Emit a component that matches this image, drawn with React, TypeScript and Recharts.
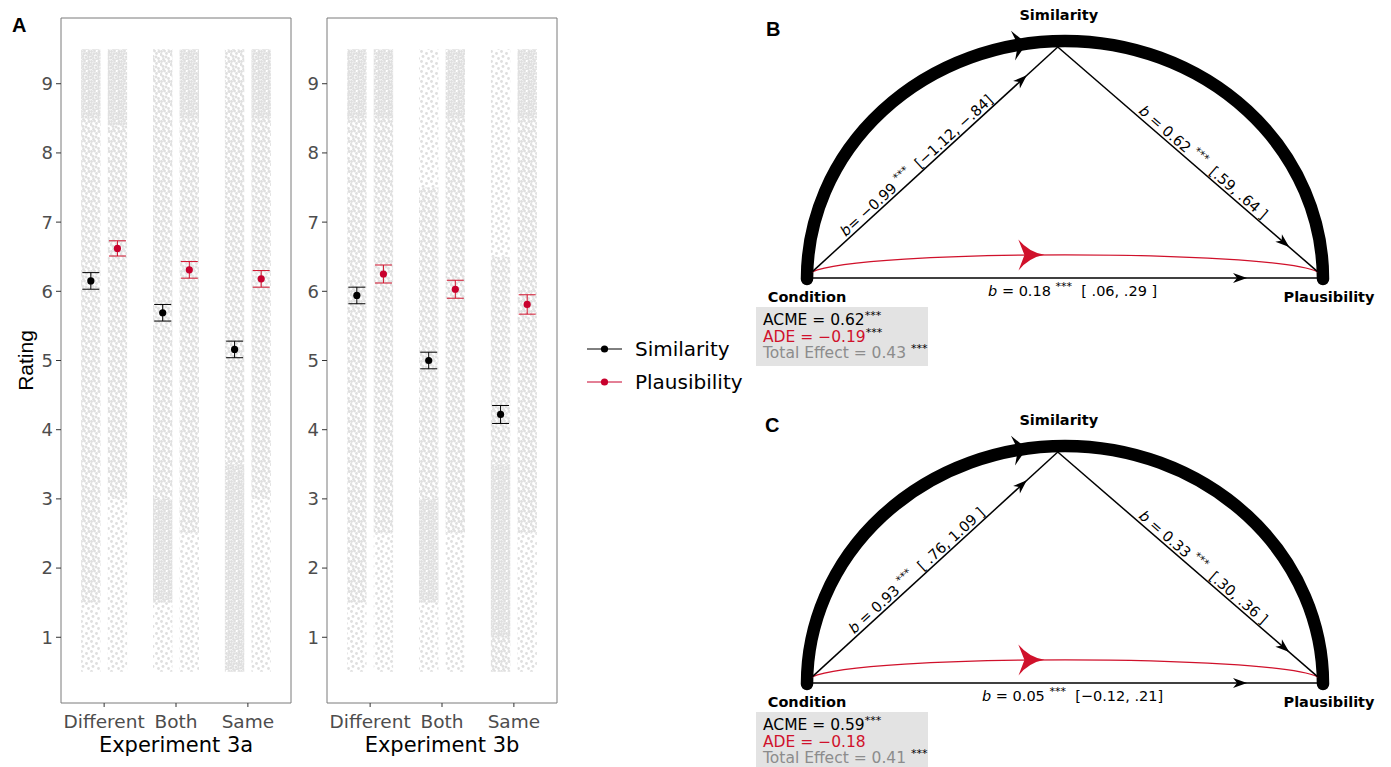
import React from "react";
import {
  ScatterChart,
  Scatter,
  XAxis,
  YAxis,
  ErrorBar,
  ReferenceArea,
  ReferenceLine,
  ReferenceDot,
  Legend,
} from "recharts";

const categories = ["Different", "Both", "Same"];
const seriesNames = ["Similarity", "Plausibility"];
const seriesColors = ["#000000", "#c8002d"];
const ratingTicks = [1, 2, 3, 4, 5, 6, 7, 8, 9];

// means and standard errors
const sim3a = [6.15, 5.69, 5.16];
const sim3aSe = [0.12, 0.12, 0.12];
const plaus3a = [6.62, 6.31, 6.18];
const plaus3aSe = [0.11, 0.12, 0.12];
const sim3b = [5.94, 5.0, 4.22];
const sim3bSe = [0.12, 0.12, 0.13];
const plaus3b = [6.25, 6.03, 5.81];
const plaus3bSe = [0.13, 0.13, 0.14];

// raw rating clouds: per column [from, to, density] with density 1 sparse .. 3 dense
// column order: Different/Sim, Different/Plaus, Both/Sim, Both/Plaus, Same/Sim, Same/Plaus
const cloud3a = [
  [[8.5, 9.5, 3], [1.5, 8.5, 2], [0.5, 1.5, 1]],
  [[8.4, 9.5, 3], [3, 8.4, 2], [0.5, 3, 1]],
  [[3, 9.5, 2], [1.5, 3, 3], [0.5, 1.5, 1]],
  [[8.5, 9.5, 3], [2.5, 8.5, 2], [0.5, 2.5, 1]],
  [[3.5, 9.5, 2], [0.5, 3.5, 3]],
  [[8.5, 9.5, 3], [3, 8.5, 2], [0.5, 3, 1]],
];
const cloud3b = [
  [[8.5, 9.5, 3], [1.5, 8.5, 2], [0.5, 1.5, 1]],
  [[8.5, 9.5, 3], [2.5, 8.5, 2], [0.5, 2.5, 1]],
  [[7.5, 9.5, 1], [3, 7.5, 2], [1.5, 3, 3], [0.5, 1.5, 1]],
  [[8.5, 9.5, 3], [2.5, 8.5, 2], [0.5, 2.5, 1]],
  [[6.5, 9.5, 1], [3.5, 6.5, 2], [1, 3.5, 3], [0.5, 1, 2]],
  [[8.5, 9.5, 3], [2.5, 8.5, 2], [0.5, 2.5, 1]],
];

// mediation diagrams (B = Experiment 3a, C = Experiment 3b)
const nodeNames = ["Condition", "Similarity", "Plausibility"];
const nodeX = [0.01, 0.486, 0.99];
const nodeY = [0.03, 0.975, 0.03];
const coefB = ["= \u22120.99", " = 0.62", " = 0.18"];
const ciB = ["[\u22121.12, \u2212.84]", "[.59, .64 ]", "[ .06, .29 ]"];
const coefC = [" = 0.93", " = 0.33", " = 0.05"];
const ciC = ["[ .76, 1.09 ]", "[.30, .36 ]", "[\u22120.12, .21]"];
const effectsB = ["0.62", "\u22120.19", "0.43"];
const effectsC = ["0.59", "\u22120.18", "0.41"];

const DODGE = 0.185;
const COL_HALF = 0.135;
const RED = "#d0112b";
const FONT = "DejaVu Sans";

const tileDots = [
  [1.5, 1.5], [6.5, 3.5], [3, 6.5], [8.5, 8.5], [4.5, 1], [9, 1.5], [1, 4.5],
  [6, 7], [3.5, 9.5], [8.5, 5.5], [3.8, 3.8], [1, 8], [6.5, 9.8], [9.6, 3.2],
];

const patterns = (id: string) =>
  [4, 9, 14].map((n, i) => (
    <pattern key={i} id={`${id}-d${i + 1}`} width={10} height={10} patternUnits="userSpaceOnUse">
      {tileDots.slice(0, n).map(([x, y], k) => (
        <circle key={k} cx={x} cy={y} r={1.45} fill="#dfdfdf" />
      ))}
    </pattern>
  ));

const meanDot = (p: any) => <circle cx={p.cx} cy={p.cy} r={3.6} fill={p.fill} />;

const legendContent = () => (
  <svg width={190} height={60}>
    {seriesNames.map((n, i) => (
      <g key={n} transform={`translate(0, ${15 + i * 33})`}>
        <line x1={1} x2={36} y1={0} y2={0} stroke={seriesColors[i]} strokeWidth={1} />
        <circle cx={18.5} cy={0} r={3.6} fill={seriesColors[i]} />
        <text x={49} y={7} fontSize={20} fontFamily={FONT} fill="#000">
          {n}
        </text>
      </g>
    ))}
  </svg>
);

function Facet(props: any) {
  const { id, title, sim, simSe, plaus, plausSe, cloud, left, width, axisWidth, marginRight, legend, rating } =
    props;
  const simData = categories.map((c, i) => ({ x: i + 1 - DODGE, y: sim[i], err: simSe[i] }));
  const plausData = categories.map((c, i) => ({ x: i + 1 + DODGE, y: plaus[i], err: plausSe[i] }));

  return (
    <div style={{ position: "absolute", left, top: 0 }}>
      <ScatterChart width={width} height={767} margin={{ top: 18, right: marginRight, bottom: 0, left: 0 }}>
        <defs>{patterns(id)}</defs>
        <XAxis
          type="number"
          dataKey="x"
          domain={[0.4, 3.6]}
          ticks={[1, 2, 3]}
          interval={0}
          allowDataOverflow
          tickFormatter={(v: number) => categories[v - 1]}
          height={64}
          axisLine={false}
          tickSize={4}
          tickMargin={8}
          tickLine={{ stroke: "#333" }}
          tick={{ fill: "#4d4d4d", fontSize: 18.5, fontFamily: FONT }}
          label={(p: any) => (
            <text
              x={p.viewBox.x + p.viewBox.width / 2}
              y={p.viewBox.y + 49}
              textAnchor="middle"
              fontSize={21}
              fontFamily={FONT}
              fill="#000"
            >
              {title}
            </text>
          )}
        />
        <YAxis
          type="number"
          dataKey="y"
          domain={[0.05, 9.95]}
          ticks={ratingTicks}
          interval={0}
          allowDataOverflow
          width={axisWidth}
          axisLine={false}
          tickSize={5}
          tickMargin={3}
          tickLine={{ stroke: "#333" }}
          tick={{ fill: "#4d4d4d", fontSize: 18, fontFamily: FONT }}
          label={
            rating
              ? (p: any) => {
                  const cy = p.viewBox.y + p.viewBox.height / 2;
                  return (
                    <text
                      x={33}
                      y={cy}
                      transform={`rotate(-90, 33, ${cy})`}
                      textAnchor="middle"
                      fontSize={21}
                      fontFamily="Liberation Sans"
                      fill="#000"
                    >
                      Rating
                    </text>
                  );
                }
              : undefined
          }
        />
        {cloud.map((bands: number[][], c: number) =>
          bands.map(([lo, hi, d], k) => {
            const cx = Math.floor(c / 2) + 1 + (c % 2 ? DODGE : -DODGE);
            return (
              <ReferenceArea
                key={`${c}-${k}`}
                x1={cx - COL_HALF}
                x2={cx + COL_HALF}
                y1={lo}
                y2={hi}
                fill={`url(#${id}-d${d})`}
                fillOpacity={1}
                stroke="none"
                ifOverflow="visible"
              />
            );
          })
        )}
        <ReferenceArea
          x1={0.4}
          x2={3.6}
          y1={0.05}
          y2={9.95}
          fill="none"
          stroke="#7a7a7a"
          strokeWidth={1}
          ifOverflow="visible"
        />
        <Scatter name={seriesNames[0]} data={simData} fill={seriesColors[0]} shape={meanDot} isAnimationActive={false}>
          <ErrorBar dataKey="err" direction="y" width={8.5} stroke={seriesColors[0]} strokeWidth={1} />
        </Scatter>
        <Scatter name={seriesNames[1]} data={plausData} fill={seriesColors[1]} shape={meanDot} isAnimationActive={false}>
          <ErrorBar dataKey="err" direction="y" width={8.5} stroke={RED} strokeWidth={1} />
        </Scatter>
        {legend && (
          <Legend
            layout="horizontal"
            align="center"
            verticalAlign="middle"
            content={legendContent}
            wrapperStyle={{ left: 316, top: 334, width: 190 }}
          />
        )}
      </ScatterChart>
    </div>
  );
}

function stealth(tx: number, ty: number, ux: number, uy: number, len: number, half: number, notch: number) {
  const nx = -uy;
  const ny = ux;
  const bx = tx - ux * len;
  const by = ty - uy * len;
  return `M${tx},${ty} L${bx + nx * half},${by + ny * half} L${tx - ux * (len - notch)},${
    ty - uy * (len - notch)
  } L${bx - nx * half},${by - ny * half} Z`;
}

function swallow(tx: number, ty: number, ux: number, uy: number, len: number, half: number, notch: number) {
  const nx = -uy;
  const ny = ux;
  const bx = tx - ux * len;
  const by = ty - uy * len;
  const mx = tx - ux * len * 0.6;
  const my = ty - uy * len * 0.6;
  const k = half * 0.18;
  return `M${tx},${ty} Q${mx + nx * k},${my + ny * k} ${bx + nx * half},${by + ny * half} L${
    tx - ux * (len - notch)
  },${ty - uy * (len - notch)} L${bx - nx * half},${by - ny * half} Q${mx - nx * k},${my - ny * k} ${tx},${ty} Z`;
}

function EffectText({ coef, ci, y }: { coef: string; ci: string; y: number }) {
  return (
    <text x={0} y={y} textAnchor="middle" fontSize={14.5} fontFamily={FONT} fill="#000" style={{ whiteSpace: "pre" }}>
      <tspan fontStyle="italic">b</tspan>
      <tspan>{coef + " "}</tspan>
      <tspan fontSize={11} dy={-6}>
        ***
      </tspan>
      <tspan dy={6}>{"  " + ci}</tspan>
    </text>
  );
}

const arrowShape = (tip: number, at: number, gap: number, coef: string, ci: string) => (p: any) => {
  const { x1, y1, x2, y2 } = p;
  const dx = x2 - x1;
  const dy = y2 - y1;
  const L = Math.hypot(dx, dy);
  const ux = dx / L;
  const uy = dy / L;
  const ang = (Math.atan2(dy, dx) * 180) / Math.PI;
  return (
    <g>
      <line x1={x1} y1={y1} x2={x2} y2={y2} stroke="#000" strokeWidth={1.5} />
      <path d={stealth(x1 + dx * tip, y1 + dy * tip, ux, uy, 14, 5, 4)} fill="#000" />
      <g transform={`translate(${x1 + dx * at},${y1 + dy * at}) rotate(${ang})`}>
        <EffectText coef={coef} ci={ci} y={gap} />
      </g>
    </g>
  );
};

// thick arc: segment runs from the left end of the arc to its apex
const arcShape = (p: any) => {
  const { x1, y1, x2, y2 } = p;
  const rx = x2 - x1;
  const ry = y1 - y2;
  const phi = (98.5 * Math.PI) / 180;
  const ax = x2 + rx * Math.cos(phi);
  const ay = y1 - ry * Math.sin(phi);
  const tx = rx * Math.sin(phi);
  const ty = ry * Math.cos(phi);
  const tl = Math.hypot(tx, ty);
  return (
    <g>
      <path
        d={`M${x1},${y1} A${rx},${ry} 0 0 1 ${x1 + 2 * rx},${y1}`}
        fill="none"
        stroke="#000"
        strokeWidth={12.5}
        strokeLinecap="round"
      />
      <path d={stealth(ax, ay, tx / tl, ty / tl, 14, 15, 5)} fill="#000" />
    </g>
  );
};

const redShape = (p: any) => {
  const { x1, y1, x2, y2 } = p;
  const w = x2 - x1;
  const c1x = x1 + 0.095 * w;
  const c1y = y1 - 0.045 * w;
  const c2x = x2 - 0.095 * w;
  const c2y = y2 - 0.045 * w;
  const t = 0.47;
  const s = 1 - t;
  const px = s * s * s * x1 + 3 * s * s * t * c1x + 3 * s * t * t * c2x + t * t * t * x2;
  const py = s * s * s * y1 + 3 * s * s * t * c1y + 3 * s * t * t * c2y + t * t * t * y2;
  const dx = 3 * s * s * (c1x - x1) + 6 * s * t * (c2x - c1x) + 3 * t * t * (x2 - c2x);
  const dy = 3 * s * s * (c1y - y1) + 6 * s * t * (c2y - c1y) + 3 * t * t * (y2 - c2y);
  const l = Math.hypot(dx, dy);
  return (
    <g>
      <path d={`M${x1},${y1} C${c1x},${c1y} ${c2x},${c2y} ${x2},${y2}`} fill="none" stroke={RED} strokeWidth={1.3} />
      <path d={swallow(px, py, dx / l, dy / l, 26, 15.5, 6)} fill={RED} />
    </g>
  );
};

const nodeLabel = (name: string, dx: number, dy: number) => (p: any) => (
  <text x={p.cx + dx} y={p.cy + dy} textAnchor="middle" fontSize={14.5} fontWeight="bold" fontFamily={FONT} fill="#000">
    {name}
  </text>
);

const effectsBox = (effects: string[], adeStars: boolean) => (p: any) => {
  const x = p.cx;
  const y = p.cy;
  const star = (fill: string) => (
    <tspan fontSize={11} dy={-6} fill={fill}>
      ***
    </tspan>
  );
  return (
    <g fontFamily={FONT} fontSize={15.5}>
      <rect x={x - 51} y={y + 28} width={172} height={59} fill="#e3e3e3" />
      <text x={x - 44} y={y + 46} fill="#000">
        ACME = {effects[0]}
        {star("#000")}
      </text>
      <text x={x - 44} y={y + 63} fill={RED}>
        ADE = {effects[1]}
        {adeStars ? star("#000") : null}
      </text>
      <text x={x - 44} y={y + 79} fill="#8c8c8c" style={{ whiteSpace: "pre" }}>
        {"Total Effect = " + effects[2] + " "}
        {star("#000")}
      </text>
    </g>
  );
};

function Mediation(props: any) {
  const { top, height, coef, ci, effects, adeStars } = props;
  const nodes = nodeNames.map((n, i) => ({ x: nodeX[i], y: nodeY[i], name: n }));
  return (
    <div style={{ position: "absolute", left: 750, top }}>
      <ScatterChart width={641} height={height} margin={{ top: 41, right: 68, bottom: height - 41 - 238, left: 57 }}>
        <XAxis type="number" dataKey="x" domain={[0, 1]} hide allowDataOverflow />
        <YAxis type="number" dataKey="y" domain={[0, 1]} hide allowDataOverflow />
        <Scatter data={nodes} shape={() => <g />} isAnimationActive={false} />
        <ReferenceLine segment={[{ x: 0, y: 0 }, { x: 0.5, y: 1 }]} shape={arcShape} ifOverflow="visible" />
        <ReferenceLine
          segment={[{ x: nodeX[0], y: nodeY[0] }, { x: nodeX[2], y: nodeY[2] }]}
          shape={redShape}
          ifOverflow="visible"
        />
        <ReferenceLine
          segment={[{ x: nodeX[0], y: nodeY[0] }, { x: nodeX[1], y: nodeY[1] }]}
          shape={arrowShape(0.874, 0.447, -3, coef[0], ci[0])}
          ifOverflow="visible"
        />
        <ReferenceLine
          segment={[{ x: nodeX[1], y: nodeY[1] }, { x: nodeX[2], y: nodeY[2] }]}
          shape={arrowShape(0.89, 0.54, -3, coef[1], ci[1])}
          ifOverflow="visible"
        />
        <ReferenceLine
          segment={[{ x: nodeX[0], y: 0.004 }, { x: nodeX[2], y: 0.004 }]}
          shape={arrowShape(0.86, 0.515, 18, coef[2], ci[2])}
          ifOverflow="visible"
        />
        <ReferenceDot x={0} y={0} r={0} shape={nodeLabel(nodeNames[0], 0, 23)} ifOverflow="visible" />
        <ReferenceDot x={nodeX[1]} y={nodeY[1]} r={0} shape={nodeLabel(nodeNames[1], 1, -27)} ifOverflow="visible" />
        <ReferenceDot x={1} y={0} r={0} shape={nodeLabel(nodeNames[2], 6, 23)} ifOverflow="visible" />
        <ReferenceDot x={0} y={0} r={0} shape={effectsBox(effects, adeStars)} ifOverflow="visible" />
      </ScatterChart>
    </div>
  );
}

const letterStyle = (left: number, top: number): React.CSSProperties => ({
  position: "absolute",
  left,
  top,
  fontFamily: "Liberation Sans",
  fontWeight: "bold",
  fontSize: 20,
  lineHeight: "20px",
});

export default function App() {
  return (
    <div
      style={{
        position: "absolute",
        left: 0,
        top: 0,
        width: 1391,
        height: 767,
        overflow: "hidden",
        background: "#fff",
        fontFamily: FONT,
      }}
    >
      <Facet
        id="e3a"
        title="Experiment 3a"
        sim={sim3a}
        simSe={sim3aSe}
        plaus={plaus3a}
        plausSe={plaus3aSe}
        cloud={cloud3a}
        left={0}
        width={300}
        axisWidth={61}
        marginRight={9}
        rating
      />
      <Facet
        id="e3b"
        title="Experiment 3b"
        sim={sim3b}
        simSe={sim3bSe}
        plaus={plaus3b}
        plausSe={plaus3bSe}
        cloud={cloud3b}
        left={270}
        width={490}
        axisWidth={57}
        marginRight={203}
        legend
      />
      <Mediation top={0} height={405} coef={coefB} ci={ciB} effects={effectsB} adeStars />
      <Mediation top={405} height={362} coef={coefC} ci={ciC} effects={effectsC} adeStars={false} />
      <div style={letterStyle(12, 15)}>A</div>
      <div style={letterStyle(766, 19)}>B</div>
      <div style={letterStyle(765, 415)}>C</div>
    </div>
  );
}
